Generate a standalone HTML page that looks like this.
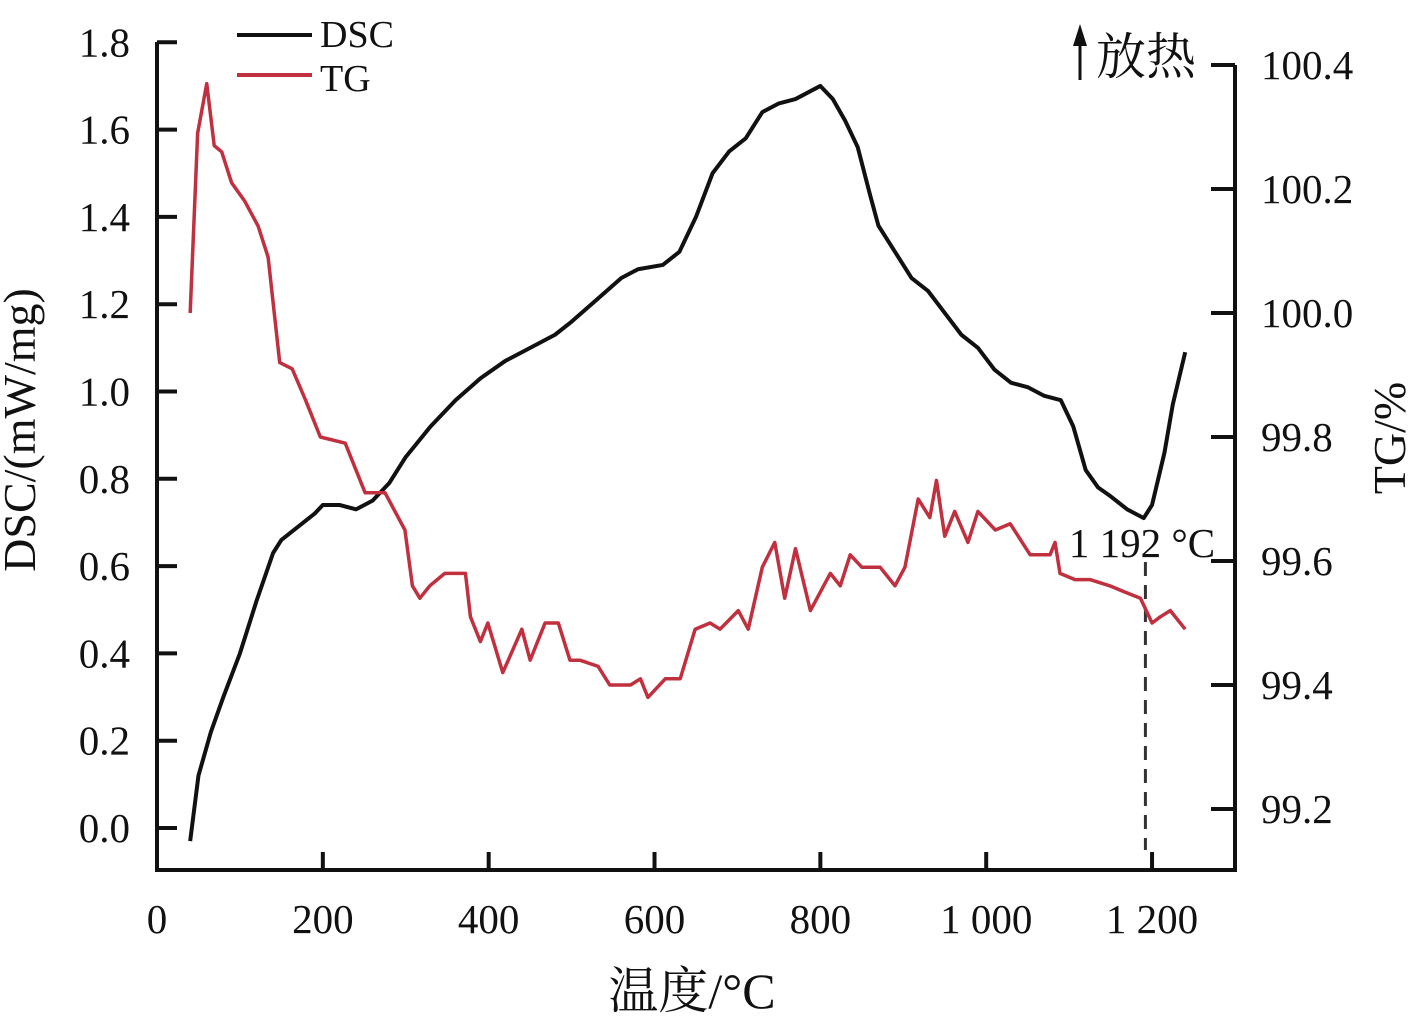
<!DOCTYPE html>
<html><head><meta charset="utf-8"><style>
body{margin:0;background:#fff}
svg text{font-family:"Liberation Serif","Noto Serif CJK SC",serif;fill:#111}
</style></head><body>
<svg id="chart" width="1422" height="1021" viewBox="0 0 1422 1021" xmlns="http://www.w3.org/2000/svg">
<g id="axes"></g>
<g id="series"></g>
<g>
<line x1="237" y1="35" x2="312" y2="35" stroke="#111" stroke-width="4"/>
<text x="320" y="47" font-size="38">DSC</text>
<line x1="237" y1="75" x2="312" y2="75" stroke="#c0303f" stroke-width="4"/>
<text x="320" y="91" font-size="38">TG</text>
</g>
<g>
<line x1="1080" y1="80" x2="1080" y2="40" stroke="#111" stroke-width="3"/>
<polygon points="1073,46 1087,46 1080,24" fill="#111"/>
<text x="1096" y="74" font-size="50">放热</text>
</g>
<text x="35" y="430" font-size="46" text-anchor="middle" transform="rotate(-90 35 430)">DSC/(mW/mg)</text>
<text x="1405" y="438" font-size="46" text-anchor="middle" transform="rotate(-90 1405 438)">TG/%</text>
<text x="692" y="1008" font-size="50" text-anchor="middle">温度/°C</text>
<text x="1142" y="557" font-size="41" text-anchor="middle">1 192 °C</text>
</svg>
<script>
const xTicks=[0,200,400,600,800,1000,1200];
const xTickLabels=["0","200","400","600","800","1 000","1 200"];
const yLeftTicks=[0,0.2,0.4,0.6,0.8,1.0,1.2,1.4,1.6,1.8];
const yRightTicks=[99.2,99.4,99.6,99.8,100.0,100.2,100.4];
const dscT=[40,50,65,80,100,120,140,150,170,190,200,220,240,260,280,300,330,360,390,420,450,480,500,530,560,580,610,630,650,670,690,710,730,750,770,790,800,815,830,845,860,870,890,910,930,950,970,990,1010,1030,1050,1070,1090,1105,1120,1135,1150,1170,1190,1200,1215,1225,1240];
const dscV=[-0.03,0.12,0.22,0.30,0.40,0.52,0.63,0.66,0.69,0.72,0.74,0.74,0.73,0.75,0.79,0.85,0.92,0.98,1.03,1.07,1.10,1.13,1.16,1.21,1.26,1.28,1.29,1.32,1.40,1.50,1.55,1.58,1.64,1.66,1.67,1.69,1.70,1.67,1.62,1.56,1.45,1.38,1.32,1.26,1.23,1.18,1.13,1.10,1.05,1.02,1.01,0.99,0.98,0.92,0.82,0.78,0.76,0.73,0.71,0.74,0.86,0.97,1.09];
const tgT=[40,49,60,69,78,90,106,122,134,148,163,179,197,227,251,275,299,308,317,329,347,372,378,390,399,417,440,450,468,484,498,510,532,546,571,583,592,613,631,649,667,679,701,713,730,745,757,770,788,812,824,836,850,872,890,902,918,932,940,950,962,978,990,1011,1029,1053,1077,1083,1089,1107,1125,1149,1167,1186,1200,1210,1222,1240];
const tgV=[100.0,100.29,100.37,100.27,100.26,100.21,100.18,100.14,100.09,99.92,99.91,99.86,99.80,99.79,99.71,99.71,99.65,99.56,99.54,99.56,99.58,99.58,99.51,99.47,99.50,99.42,99.49,99.44,99.50,99.50,99.44,99.44,99.43,99.40,99.40,99.41,99.38,99.41,99.41,99.49,99.50,99.49,99.52,99.49,99.59,99.63,99.54,99.62,99.52,99.58,99.56,99.61,99.59,99.59,99.56,99.59,99.70,99.67,99.73,99.64,99.68,99.63,99.68,99.65,99.66,99.61,99.61,99.63,99.58,99.57,99.57,99.56,99.55,99.54,99.50,99.51,99.52,99.49];
const peakT=[1192];
const NS="http://www.w3.org/2000/svg";
const L=157,R=1235,B=870;
const xs=t=>L+t*0.8292;
const yl=v=>828-v*436.5;
const yr=v=>65-(v-100.4)*620;
function mk(tag,at,parent){const e=document.createElementNS(NS,tag);for(const k in at)e.setAttribute(k,at[k]);parent.appendChild(e);return e;}
const ax=document.getElementById('axes'),se=document.getElementById('series');
let e=mk('polyline',{points:`${L},42 ${L},${B} ${R},${B} ${R},65`,fill:'none',stroke:'#111','stroke-width':4},ax);


xTicks.forEach((t,i)=>{
 let l=mk('line',{x1:xs(t),x2:xs(t),y1:B,y2:B-18,stroke:'#111','stroke-width':4},ax);
 
 
 let tx=mk('text',{x:xs(t),y:933,'font-size':41,'text-anchor':'middle'},ax);tx.textContent=xTickLabels[i];
 
 
});
yLeftTicks.forEach(v=>{
 let l=mk('line',{x1:L,x2:L+20,y1:yl(v),y2:yl(v),stroke:'#111','stroke-width':4},ax);
 
 
 let tx=mk('text',{x:130,y:yl(v)+14,'font-size':41,'text-anchor':'end'},ax);tx.textContent=v.toFixed(1);
 
 
});
yRightTicks.forEach(v=>{
 let l=mk('line',{x1:R-24,x2:R,y1:yr(v),y2:yr(v),stroke:'#111','stroke-width':4},ax);
 
 
 let tx=mk('text',{x:1261,y:yr(v)+14,'font-size':41},ax);tx.textContent=v.toFixed(1);
 
 
});
let d=mk('line',{x1:xs(peakT[0]),x2:xs(peakT[0]),y1:562,y2:850,stroke:'#333','stroke-width':3,'stroke-dasharray':'14,9'},se);


let p1=mk('polyline',{points:dscT.map((t,i)=>xs(t)+','+yl(dscV[i])).join(' '),fill:'none',stroke:'#111','stroke-width':4,'stroke-linejoin':'round'},se);


let p2=mk('polyline',{points:tgT.map((t,i)=>xs(t)+','+yr(tgV[i])).join(' '),fill:'none',stroke:'#c0303f','stroke-width':3.5,'stroke-linejoin':'round'},se);


</script>
</body></html>
